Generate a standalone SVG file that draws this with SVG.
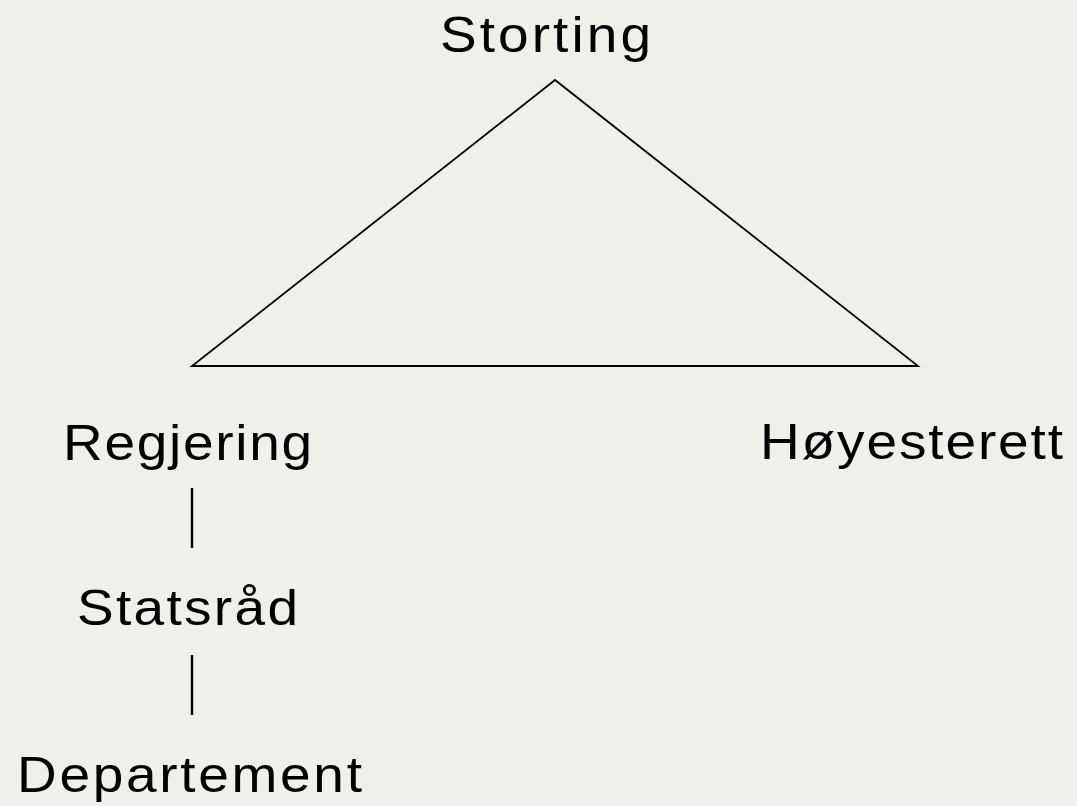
<svg xmlns="http://www.w3.org/2000/svg" width="1077" height="806" viewBox="0 0 1077 806">
<style>
text{font-family:"Liberation Sans",Arial,sans-serif;font-size:50px;fill:#000}
.c{stroke:#000;stroke-width:1.8;fill:none}
.v{stroke:#000;stroke-width:2.4;fill:none}
</style>
<rect width="1077" height="806" fill="#F0EFE9"/>
<g id="connectors">
<path class="c" d="M555 80 L192 366 L918 366 Z"/>
<line class="v" x1="192" y1="488" x2="192" y2="548"/>
<line class="v" x1="192" y1="655" x2="192" y2="715"/>
</g>
<g id="storting"><text transform="translate(440 52) scale(1.1 1)" textLength="191.8" lengthAdjust="spacing">Storting</text></g>
<g id="regjering"><text transform="translate(63 460) scale(1.1 1)" textLength="226.4" lengthAdjust="spacing">Regjering</text></g>
<g id="hoyesterett"><text transform="translate(760 459) scale(1.1 1)" textLength="275.5" lengthAdjust="spacing">Høyesterett</text></g>
<g id="statsrad"><text transform="translate(77 625) scale(1.1 1)" textLength="200.9" lengthAdjust="spacing">Statsråd</text></g>
<g id="departement"><text transform="translate(17 792) scale(1.1 1)" textLength="313.6" lengthAdjust="spacing">Departement</text></g>
</svg>
